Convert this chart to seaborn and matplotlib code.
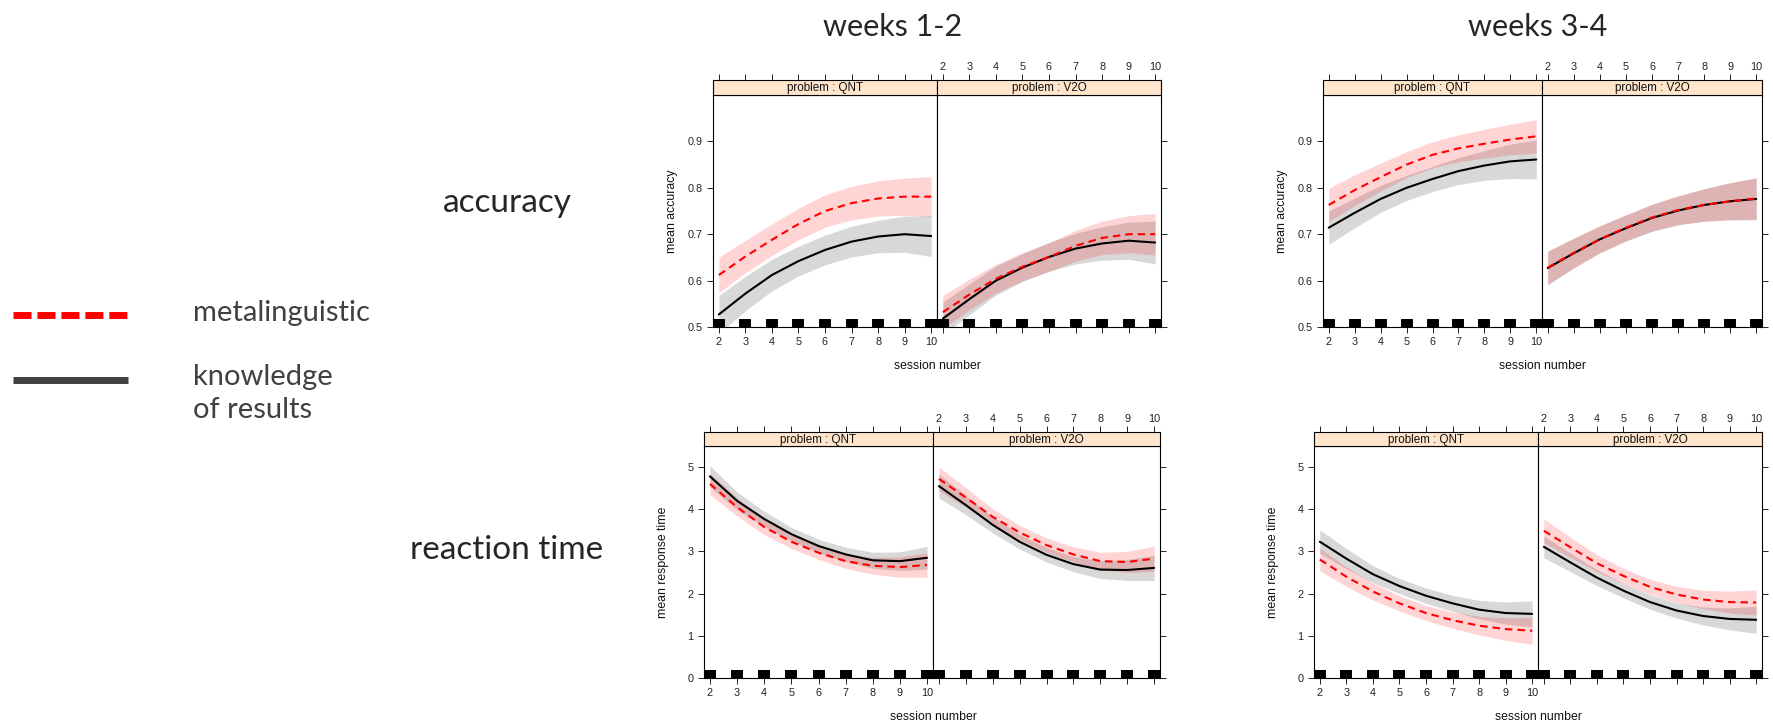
import numpy as np
import pandas as pd
import matplotlib.pyplot as plt
from matplotlib.lines import Line2D
import seaborn as sns

sns.set_theme(style="white")
plt.rcParams['font.family'] = ['Liberation Sans', 'DejaVu Sans']

# session numbers and panel labels
sessions = [2, 3, 4, 5, 6, 7, 8, 9, 10]
groups = ['knowledge of results', 'metalinguistic']
acc_ticks = [0.5, 0.6, 0.7, 0.8, 0.9]
acc_labels = ['0.5', '0.6', '0.7', '0.8', '0.9']
rt_ticks = [0, 1, 2, 3, 4, 5]
rt_labels = ['0', '1', '2', '3', '4', '5']

# mean accuracy, weeks 1-2 (fit and half width of the band)
acc12_qnt_meta = [0.612, 0.652, 0.688, 0.722, 0.750, 0.767, 0.777, 0.781, 0.781]
acc12_qnt_meta_ci = [0.038, 0.035, 0.034, 0.034, 0.035, 0.036, 0.038, 0.040, 0.043]
acc12_qnt_kor = [0.527, 0.572, 0.612, 0.642, 0.666, 0.684, 0.695, 0.700, 0.696]
acc12_qnt_kor_ci = [0.041, 0.037, 0.034, 0.032, 0.032, 0.033, 0.035, 0.039, 0.044]
acc12_v2o_meta = [0.532, 0.570, 0.604, 0.630, 0.651, 0.675, 0.692, 0.700, 0.700]
acc12_v2o_meta_ci = [0.036, 0.033, 0.031, 0.030, 0.031, 0.033, 0.036, 0.040, 0.045]
acc12_v2o_kor = [0.518, 0.560, 0.600, 0.628, 0.651, 0.669, 0.680, 0.686, 0.682]
acc12_v2o_kor_ci = [0.036, 0.033, 0.031, 0.030, 0.031, 0.033, 0.036, 0.040, 0.046]

# mean accuracy, weeks 3-4
acc34_qnt_meta = [0.763, 0.795, 0.823, 0.850, 0.871, 0.885, 0.895, 0.904, 0.911]
acc34_qnt_meta_ci = [0.036, 0.033, 0.030, 0.028, 0.028, 0.029, 0.031, 0.033, 0.036]
acc34_qnt_kor = [0.714, 0.746, 0.776, 0.800, 0.819, 0.836, 0.848, 0.857, 0.861]
acc34_qnt_kor_ci = [0.036, 0.032, 0.029, 0.027, 0.027, 0.029, 0.032, 0.037, 0.042]
acc34_v2o_meta = [0.628, 0.660, 0.689, 0.714, 0.736, 0.752, 0.763, 0.771, 0.777]
acc34_v2o_meta_ci = [0.036, 0.032, 0.029, 0.028, 0.029, 0.031, 0.035, 0.040, 0.045]
acc34_v2o_kor = [0.627, 0.659, 0.689, 0.713, 0.735, 0.751, 0.763, 0.771, 0.776]
acc34_v2o_kor_ci = [0.036, 0.032, 0.029, 0.028, 0.029, 0.031, 0.035, 0.040, 0.045]

# mean response time, weeks 1-2
rt12_qnt_meta = [4.60, 4.05, 3.58, 3.23, 2.97, 2.77, 2.66, 2.63, 2.68]
rt12_qnt_meta_ci = [0.25, 0.21, 0.18, 0.16, 0.16, 0.17, 0.20, 0.24, 0.29]
rt12_qnt_kor = [4.78, 4.20, 3.77, 3.41, 3.13, 2.93, 2.79, 2.77, 2.85]
rt12_qnt_kor_ci = [0.25, 0.21, 0.18, 0.16, 0.16, 0.17, 0.19, 0.22, 0.27]
rt12_v2o_meta = [4.72, 4.28, 3.82, 3.45, 3.15, 2.93, 2.77, 2.75, 2.83]
rt12_v2o_meta_ci = [0.28, 0.23, 0.19, 0.17, 0.17, 0.18, 0.21, 0.25, 0.30]
rt12_v2o_kor = [4.55, 4.10, 3.63, 3.23, 2.92, 2.70, 2.57, 2.56, 2.61]
rt12_v2o_kor_ci = [0.28, 0.23, 0.19, 0.17, 0.17, 0.18, 0.21, 0.25, 0.30]

# mean response time, weeks 3-4
rt34_qnt_meta = [2.81, 2.40, 2.05, 1.77, 1.54, 1.37, 1.24, 1.16, 1.12]
rt34_qnt_meta_ci = [0.27, 0.23, 0.20, 0.18, 0.18, 0.19, 0.22, 0.27, 0.32]
rt34_qnt_kor = [3.23, 2.83, 2.46, 2.18, 1.95, 1.77, 1.62, 1.54, 1.52]
rt34_qnt_kor_ci = [0.28, 0.24, 0.20, 0.18, 0.18, 0.19, 0.22, 0.26, 0.31]
rt34_v2o_meta = [3.49, 3.10, 2.72, 2.42, 2.16, 1.98, 1.86, 1.80, 1.79]
rt34_v2o_meta_ci = [0.28, 0.24, 0.20, 0.18, 0.18, 0.19, 0.22, 0.26, 0.30]
rt34_v2o_kor = [3.11, 2.74, 2.38, 2.07, 1.80, 1.60, 1.47, 1.40, 1.38]
rt34_v2o_kor_ci = [0.26, 0.22, 0.19, 0.17, 0.17, 0.18, 0.21, 0.26, 0.32]

W, H = 1773, 722
fig = plt.figure(figsize=(W / 100, H / 100), dpi=100)


def box(x0, x1, y0, y1):
    return [x0 / W, 1 - y1 / H, (x1 - x0) / W, (y1 - y0) / H]


tick_col = '#222222'
red = '#ff0000'

# (left, divider, right) in pixels, row, y-axis setup, series per problem
blocks = [
    ((713, 937, 1161), 'top', 'mean accuracy', (0.5, 1.0), acc_ticks, acc_labels,
     [(acc12_qnt_meta, acc12_qnt_meta_ci, acc12_qnt_kor, acc12_qnt_kor_ci),
      (acc12_v2o_meta, acc12_v2o_meta_ci, acc12_v2o_kor, acc12_v2o_kor_ci)]),
    ((1323, 1542, 1762), 'top', 'mean accuracy', (0.5, 1.0), acc_ticks, acc_labels,
     [(acc34_qnt_meta, acc34_qnt_meta_ci, acc34_qnt_kor, acc34_qnt_kor_ci),
      (acc34_v2o_meta, acc34_v2o_meta_ci, acc34_v2o_kor, acc34_v2o_kor_ci)]),
    ((704, 933, 1160), 'bottom', 'mean response time', (0, 5.5), rt_ticks, rt_labels,
     [(rt12_qnt_meta, rt12_qnt_meta_ci, rt12_qnt_kor, rt12_qnt_kor_ci),
      (rt12_v2o_meta, rt12_v2o_meta_ci, rt12_v2o_kor, rt12_v2o_kor_ci)]),
    ((1314, 1538, 1762), 'bottom', 'mean response time', (0, 5.5), rt_ticks, rt_labels,
     [(rt34_qnt_meta, rt34_qnt_meta_ci, rt34_qnt_kor, rt34_qnt_kor_ci),
      (rt34_v2o_meta, rt34_v2o_meta_ci, rt34_v2o_kor, rt34_v2o_kor_ci)]),
]
rows = {'top': (80, 95, 327, 366), 'bottom': (432, 446, 678, 717)}
problems = ['QNT', 'V2O']

for (xs, row, ylab, ylim, yt, ytl, series) in blocks:
    s_top, p_top, p_bot, xlab_y = rows[row]
    for k in range(2):
        meta, meta_ci, kor, kor_ci = series[k]
        ax = fig.add_axes(box(xs[k], xs[k + 1], p_top, p_bot))
        ax.set_xlim(1.78, 10.22)
        ax.set_ylim(*ylim)

        kor_a, kor_e = np.array(kor), np.array(kor_ci)
        meta_a, meta_e = np.array(meta), np.array(meta_ci)
        ax.fill_between(sessions, kor_a - kor_e, kor_a + kor_e, color='#d8d8d8', lw=0, zorder=1)
        ax.fill_between(sessions, meta_a - meta_e, meta_a + meta_e, color=red, alpha=0.17, lw=0, zorder=1)

        df = pd.DataFrame({
            'session': sessions * 2,
            'value': kor + meta,
            'group': [groups[0]] * 9 + [groups[1]] * 9,
        })
        sns.lineplot(data=df, x='session', y='value', hue='group', style='group',
                     hue_order=groups, style_order=groups,
                     palette={groups[0]: 'black', groups[1]: red},
                     dashes={groups[0]: '', groups[1]: (3.6, 2.4)},
                     linewidth=1.5, errorbar=None, legend=False, ax=ax)
        sns.rugplot(x=sessions, ax=ax, height=8 / 232, color='black',
                    linewidth=8.6, expand_margins=False)
        ax.set_xlabel('')
        ax.set_ylabel('')

        for sp in ax.spines.values():
            sp.set_color('black')
            sp.set_linewidth(0.8)
        ax.set_xticks(sessions)
        ax.set_yticks(yt)
        ax.tick_params(direction='out', length=4, width=0.7, color=tick_col,
                       labelcolor=tick_col, labelsize=7.8, pad=3.5)
        if k == 0:
            ax.set_yticklabels(ytl)
            ax.tick_params(left=True, labelleft=True, right=False, bottom=True,
                           labelbottom=True, top=False)
        else:
            ax.tick_params(left=False, labelleft=False, right=True, labelright=False,
                           bottom=True, labelbottom=False, top=False)

        # strip above the panel
        st = fig.add_axes(box(xs[k], xs[k + 1], s_top, p_top))
        st.set_facecolor('#ffe5cc')
        st.set_xlim(1.78, 10.22)
        st.set_yticks([])
        st.xaxis.tick_top()
        st.set_xticks(sessions)
        st.tick_params(axis='x', direction='out', length=4, width=0.7, color=tick_col,
                       labelcolor=tick_col, labelsize=7.8, pad=2, top=True,
                       labeltop=(k == 1), bottom=False, labelbottom=False)
        for sp in st.spines.values():
            sp.set_color('black')
            sp.set_linewidth(0.8)
        st.text(0.5, 0.45, 'problem : ' + problems[k], transform=st.transAxes,
                ha='center', va='center', fontsize=8.4, color='#111111')

    fig.text(xs[1] / W, 1 - xlab_y / H, 'session number', ha='center', va='center',
             fontsize=8.8, color='#111111')
    fig.text((xs[0] - 41) / W, 1 - (p_top + p_bot) / 2 / H, ylab, rotation=90,
             ha='center', va='center', fontsize=8.8, color='#111111')

# headings
big = ['Lato', 'DejaVu Sans']
fig.text(893 / W, 1 - 27 / H, 'weeks 1-2', ha='center', va='center', fontsize=22, family=big)
fig.text(1538 / W, 1 - 27 / H, 'weeks 3-4', ha='center', va='center', fontsize=22, family=big)
fig.text(507 / W, 1 - 203 / H, 'accuracy', ha='center', va='center', fontsize=24, family=big)
fig.text(507 / W, 1 - 550 / H, 'reaction time', ha='center', va='center', fontsize=24, family=big)

# legend on the left
fig.add_artist(Line2D([13 / W, 128 / W], [1 - 315 / H] * 2, color=red, lw=5,
                      dashes=(2.6, 0.85), solid_capstyle='butt', dash_capstyle='butt'))
fig.add_artist(Line2D([13 / W, 128 / W], [1 - 380 / H] * 2, color='#404040', lw=5,
                      solid_capstyle='butt'))
fig.text(193 / W, 1 - 313 / H, 'metalinguistic', ha='left', va='center', fontsize=21,
         family=big, color='#404040')
fig.text(193 / W, 1 - 364 / H, 'knowledge\nof results', ha='left', va='top', fontsize=21,
         family=big, color='#404040', linespacing=1.35)

fig.savefig('out.png', dpi=100)
